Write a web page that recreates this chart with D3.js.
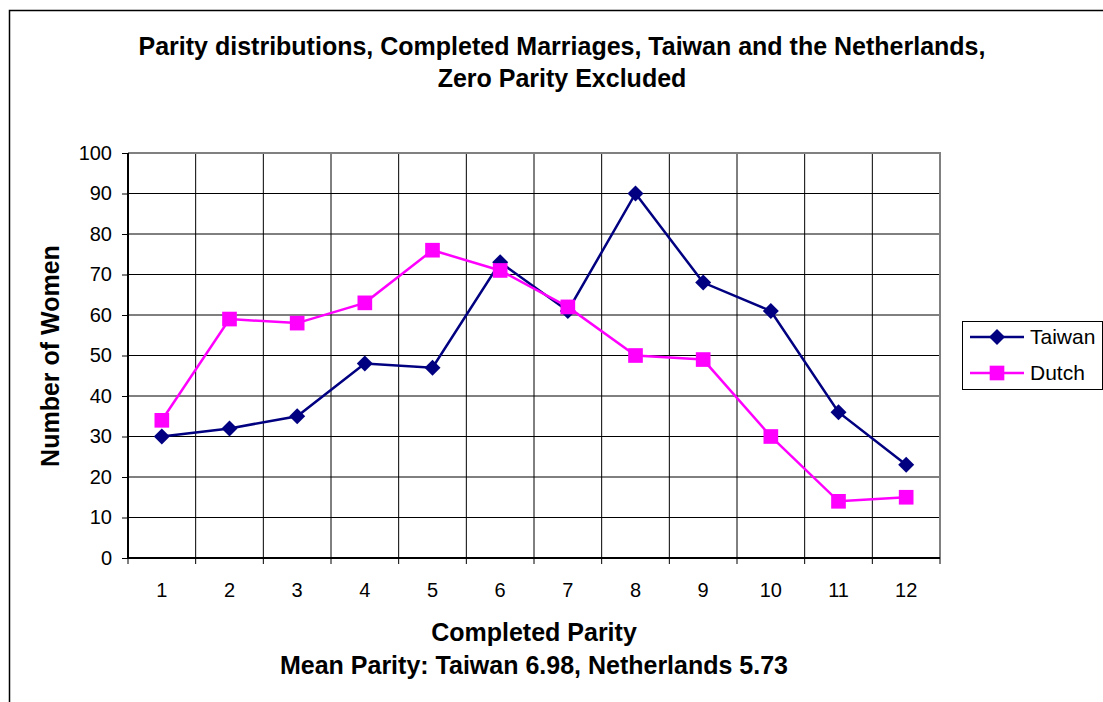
<!DOCTYPE html>
<html>
<head>
<meta charset="utf-8">
<script src="https://d3js.org/d3.v7.min.js"></script>
<style>
  body { margin: 0; background: #fff; }
  text { font-family: "Liberation Sans", Arial, sans-serif; }
</style>
</head>
<body>
<script>
  // chart data
  var parity = [1, 2, 3, 4, 5, 6, 7, 8, 9, 10, 11, 12];
  var taiwan = [30, 32, 35, 48, 47, 73, 61, 90, 68, 61, 36, 23];
  var dutch  = [34, 59, 58, 63, 76, 71, 62, 50, 49, 30, 14, 15];
  var yTicks = [0, 10, 20, 30, 40, 50, 60, 70, 80, 90, 100];

  var W = 1103, H = 702;
  var pLeft = 128, pRight = 940, pTop = 153, pBottom = 558;

  var svg = d3.select("body").append("svg")
              .attr("width", W).attr("height", H);

  // outer chart frame (runs off the right / bottom edge)
  svg.append("rect")
     .attr("x", 9.5).attr("y", 10.5)
     .attr("width", W + 20).attr("height", H + 20)
     .attr("fill", "#fff").attr("stroke", "#000").attr("stroke-width", 1.5);

  var x = d3.scaleBand().domain(parity).range([pLeft, pRight]);
  var y = d3.scaleLinear().domain([0, 100]).range([pBottom, pTop]);

  // horizontal gridlines
  svg.append("g").selectAll("line").data(yTicks.slice(1)).enter().append("line")
     .attr("x1", pLeft).attr("x2", pRight)
     .attr("y1", function(d){ return y(d); }).attr("y2", function(d){ return y(d); })
     .attr("stroke", "#000").attr("stroke-width", 1);

  // vertical gridlines at category boundaries
  svg.append("g").selectAll("line").data(parity.slice(1)).enter().append("line")
     .attr("x1", function(d){ return x(d); }).attr("x2", function(d){ return x(d); })
     .attr("y1", pTop).attr("y2", pBottom + 6)
     .attr("stroke", "#000").attr("stroke-width", 1);

  // plot border top / right (grey)
  svg.append("path")
     .attr("d", "M" + pLeft + "," + pTop + "H" + pRight + "V" + pBottom)
     .attr("fill", "none").attr("stroke", "#808080").attr("stroke-width", 2);
  svg.append("line").attr("x1", pRight).attr("x2", pRight)
     .attr("y1", pBottom).attr("y2", pBottom + 6).attr("stroke", "#000");

  // y axis
  var yAxis = svg.append("g").attr("transform", "translate(" + pLeft + ",0)")
     .call(d3.axisLeft(y).tickValues(yTicks).tickSize(6).tickPadding(10));
  yAxis.select(".domain").attr("stroke", "#000").attr("stroke-width", 2)
       .attr("d", "M0," + pTop + "V" + pBottom);
  yAxis.selectAll(".tick line").attr("stroke", "#000");
  yAxis.selectAll("text").style("font-size", "20px").attr("fill", "#000")
       .style("font-family", "Liberation Sans, Arial, sans-serif");

  // x axis
  var xAxis = svg.append("g").attr("transform", "translate(0," + pBottom + ")")
     .call(d3.axisBottom(x).tickSize(0).tickPadding(25));
  xAxis.select(".domain").attr("stroke", "#000").attr("stroke-width", 2)
       .attr("d", "M" + pLeft + ",0H" + pRight);
  xAxis.selectAll("text").style("font-size", "20px").attr("fill", "#000")
       .style("font-family", "Liberation Sans, Arial, sans-serif");
  svg.append("line").attr("x1", pLeft).attr("x2", pLeft)
     .attr("y1", pBottom).attr("y2", pBottom + 6).attr("stroke", "#000");

  var cx = function(d, i){ return x(parity[i]) + x.bandwidth() / 2; };

  var series = [
    { name: "Taiwan", values: taiwan, color: "#000080", shape: d3.symbolSquare, size: 128, rot: 45 },
    { name: "Dutch",  values: dutch,  color: "#FF00FF", shape: d3.symbolSquare, size: 215, rot: 0 }
  ];

  series.forEach(function(s){
    var line = d3.line().x(cx).y(function(d){ return y(d); });
    svg.append("path").datum(s.values)
       .attr("d", line).attr("fill", "none")
       .attr("stroke", s.color).attr("stroke-width", 2.5);
    svg.append("g").selectAll("path").data(s.values).enter().append("path")
       .attr("d", d3.symbol().type(s.shape).size(s.size))
       .attr("transform", function(d, i){
         return "translate(" + cx(d, i) + "," + y(d) + ") rotate(" + s.rot + ")";
       })
       .attr("fill", s.color);
  });

  // titles
  svg.append("text").attr("x", 562).attr("y", 55).attr("text-anchor", "middle")
     .attr("font-size", 25).attr("font-weight", "bold")
     .text("Parity distributions, Completed Marriages, Taiwan and the Netherlands,");
  svg.append("text").attr("x", 562).attr("y", 87).attr("text-anchor", "middle")
     .attr("font-size", 25).attr("font-weight", "bold")
     .text("Zero Parity Excluded");
  svg.append("text").attr("x", 534).attr("y", 641).attr("text-anchor", "middle")
     .attr("font-size", 25).attr("font-weight", "bold").text("Completed Parity");
  svg.append("text").attr("x", 534).attr("y", 674).attr("text-anchor", "middle")
     .attr("font-size", 25).attr("font-weight", "bold")
     .text("Mean Parity: Taiwan 6.98, Netherlands 5.73");
  svg.append("text").attr("transform", "translate(59,356) rotate(-90)")
     .attr("text-anchor", "middle").attr("font-size", 25).attr("font-weight", "bold")
     .text("Number of Women");

  // legend
  var lg = svg.append("g");
  lg.append("rect").attr("x", 962.5).attr("y", 321.5).attr("width", 140).attr("height", 68)
    .attr("fill", "#fff").attr("stroke", "#000").attr("stroke-width", 1);
  series.forEach(function(s, i){
    var ly = 337 + i * 36;
    lg.append("line").attr("x1", 970).attr("x2", 1024).attr("y1", ly).attr("y2", ly)
      .attr("stroke", s.color).attr("stroke-width", 2.5);
    lg.append("path").attr("d", d3.symbol().type(s.shape).size(s.size))
      .attr("transform", "translate(997," + ly + ") rotate(" + s.rot + ")").attr("fill", s.color);
    lg.append("text").attr("x", 1030).attr("y", ly + 7).attr("font-size", 21).text(s.name);
  });
</script>
</body>
</html>
